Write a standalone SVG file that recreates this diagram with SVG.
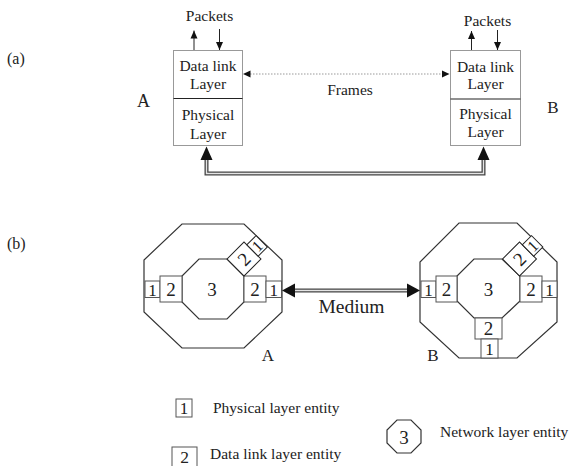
<svg xmlns="http://www.w3.org/2000/svg" width="574" height="466" viewBox="0 0 574 466">
<style>
text{font-family:"Liberation Serif","Times New Roman",serif;fill:#222}
.t{font-size:15.5px;text-anchor:middle}
.lbl{font-size:17px;text-anchor:middle}
.d{font-size:19px;text-anchor:middle}
.box{fill:#fff;stroke:#999;stroke-width:1}
.div{stroke:#222;stroke-width:1.2}
.oct{fill:#fff;stroke:#333;stroke-width:1.2}
.ent{fill:#fff;stroke:#555;stroke-width:1}
.thin{stroke:#222;stroke-width:1;fill:none}
.dbl{fill:none;stroke:#444;stroke-width:4}
.dbli{fill:none;stroke:#e4e4e4;stroke-width:1.4}
.dot{stroke:#999;stroke-width:1;stroke-dasharray:1.5 1.5;fill:none}
.ah{fill:#111}
</style>
<defs>
<marker id="sa" viewBox="0 0 8 8" refX="8" refY="4" markerWidth="8" markerHeight="8" markerUnits="userSpaceOnUse" orient="auto">
<path d="M0,0.5 L8,4 L0,7.5 Z" fill="#111"/>
</marker>
</defs>

<text x="7" y="64" style="font-size:16px">(a)</text>
<text x="7" y="249" style="font-size:16px">(b)</text>

<g id="nodeA-stack">
<rect class="box" x="173.5" y="50.5" width="69" height="95"/>
<line class="div" x1="173.5" y1="98.5" x2="242.5" y2="98.5"/>
<text class="t" x="208" y="70.5">Data link</text>
<text class="t" x="208" y="88.5">Layer</text>
<text class="t" x="208" y="120">Physical</text>
<text class="t" x="208" y="138.5">Layer</text>
<text class="t" x="209.5" y="20.5">Packets</text>
<text class="lbl" x="143.5" y="106.5" style="font-size:18px">A</text>
</g>

<g id="nodeB-stack">
<rect class="box" x="450.5" y="50.5" width="70" height="95"/>
<line class="div" x1="450.5" y1="99" x2="520.5" y2="99"/>
<text class="t" x="485.5" y="71.5">Data link</text>
<text class="t" x="485.5" y="88.5">Layer</text>
<text class="t" x="485.5" y="119">Physical</text>
<text class="t" x="485.5" y="137">Layer</text>
<text class="t" x="487.5" y="25.5">Packets</text>
<text class="lbl" x="553" y="113">B</text>
</g>

<g id="connectors-a">
<line class="thin" x1="194" y1="50" x2="194" y2="30.5" marker-end="url(#sa)"/>
<line class="thin" x1="219.5" y1="29" x2="219.5" y2="50" marker-end="url(#sa)"/>
<line class="thin" x1="471.5" y1="50" x2="471.5" y2="31" marker-end="url(#sa)"/>
<line class="thin" x1="497.5" y1="30" x2="497.5" y2="50" marker-end="url(#sa)"/>
<line class="dot" x1="250" y1="74" x2="443" y2="74"/>
<path class="ah" d="M243,74 L250.5,70.5 L250.5,77.5 Z"/>
<path class="ah" d="M449.5,74 L442,70.5 L442,77.5 Z"/>
<text class="t" x="350" y="95">Frames</text>
<path class="dbl" d="M206.5,159 V173.5 H483.5 V159"/>
<path class="dbli" d="M206.5,159 V173.5 H483.5 V159"/>
<path class="ah" d="M206.5,146.5 L200.5,160 L212.5,160 Z"/>
<path class="ah" d="M483.5,146.5 L477.5,160 L489.5,160 Z"/>
</g>

<g id="nodeA">
<polygon class="oct" points="182,224 244,224 282,260 282,312 244,348 182,348 144,312 144,260"/>
<polygon class="oct" points="199,259 227,259 244,276 244,302 227,319 199,319 182,302 182,276"/>
<rect class="ent" x="145" y="281" width="15" height="16.5"/>
<text class="d" x="152.5" y="296" style="font-size:17px">1</text>
<rect class="ent" x="160" y="276" width="22" height="26"/>
<text class="d" x="171" y="295.5">2</text>
<text class="d" x="212" y="296">3</text>
<rect class="ent" x="244" y="276" width="22" height="26"/>
<text class="d" x="255" y="295.5">2</text>
<rect class="ent" x="266" y="281" width="15.5" height="16.5"/>
<text class="d" x="273.8" y="296" style="font-size:17px">1</text>
<g transform="translate(244,259) rotate(-45)">
<rect class="ent" x="-12" y="-12" width="24" height="24" style="stroke:#222"/>
<text class="d" x="0" y="6.5">2</text>
<rect class="ent" x="12" y="-8" width="13" height="16" style="stroke:#222"/>
<text class="d" x="18.5" y="5.5" style="font-size:16px">1</text>
</g>
<text class="lbl" x="268" y="361">A</text>
</g>

<g id="nodeB">
<polygon class="oct" points="459,223 517,223 557,262 557,322 517,358 459,358 420,322 420,262"/>
<polygon class="oct" points="474,259 502,259 520,276 520,301 502,318 474,318 457,301 457,276"/>
<rect class="ent" x="421" y="281" width="15" height="16.5"/>
<text class="d" x="428.5" y="296" style="font-size:17px">1</text>
<rect class="ent" x="436" y="276" width="21" height="26"/>
<text class="d" x="446.5" y="295.5">2</text>
<text class="d" x="488.5" y="296">3</text>
<rect class="ent" x="520" y="276" width="22" height="26"/>
<text class="d" x="531" y="295.5">2</text>
<rect class="ent" x="542" y="281" width="15" height="16.5"/>
<text class="d" x="549.5" y="296" style="font-size:17px">1</text>
<rect class="ent" x="475" y="318" width="27" height="21"/>
<text class="d" x="488.5" y="335">2</text>
<rect class="ent" x="481" y="339" width="17" height="19"/>
<text class="d" x="489.5" y="355" style="font-size:17px">1</text>
<g transform="translate(519.5,259) rotate(-45)">
<rect class="ent" x="-12" y="-12" width="24" height="24" style="stroke:#222"/>
<text class="d" x="0" y="6.5">2</text>
<rect class="ent" x="12" y="-8" width="13" height="16" style="stroke:#222"/>
<text class="d" x="18.5" y="5.5" style="font-size:16px">1</text>
</g>
<text class="lbl" x="433" y="361">B</text>
</g>

<g id="connectors-b">
<path class="dbl" d="M294,290.5 H408"/>
<path class="dbli" d="M294,290.5 H408"/>
<path class="ah" d="M282,290.5 L295,283.5 L295,297.5 Z"/>
<path class="ah" d="M420,290.5 L407,283.5 L407,297.5 Z"/>
<text class="d" x="351.5" y="313" style="font-size:19.5px">Medium</text>
</g>

<g id="legend">
<rect class="ent" x="176" y="399" width="16" height="18"/>
<text class="d" x="184" y="414" style="font-size:17px">1</text>
<text x="213" y="413" style="font-size:15.5px">Physical layer entity</text>
<rect class="ent" x="172" y="447" width="25" height="25"/>
<text class="d" x="184.5" y="462.5" style="font-size:17.5px">2</text>
<text x="210" y="459" style="font-size:15.5px">Data link layer entity</text>
<polygon class="oct" points="397,420 411,420 421,430 421,443 411,453 397,453 387,443 387,430"/>
<text class="d" x="404" y="443.5">3</text>
<text x="440" y="437" style="font-size:15.5px">Network layer entity</text>
</g>
</svg>
